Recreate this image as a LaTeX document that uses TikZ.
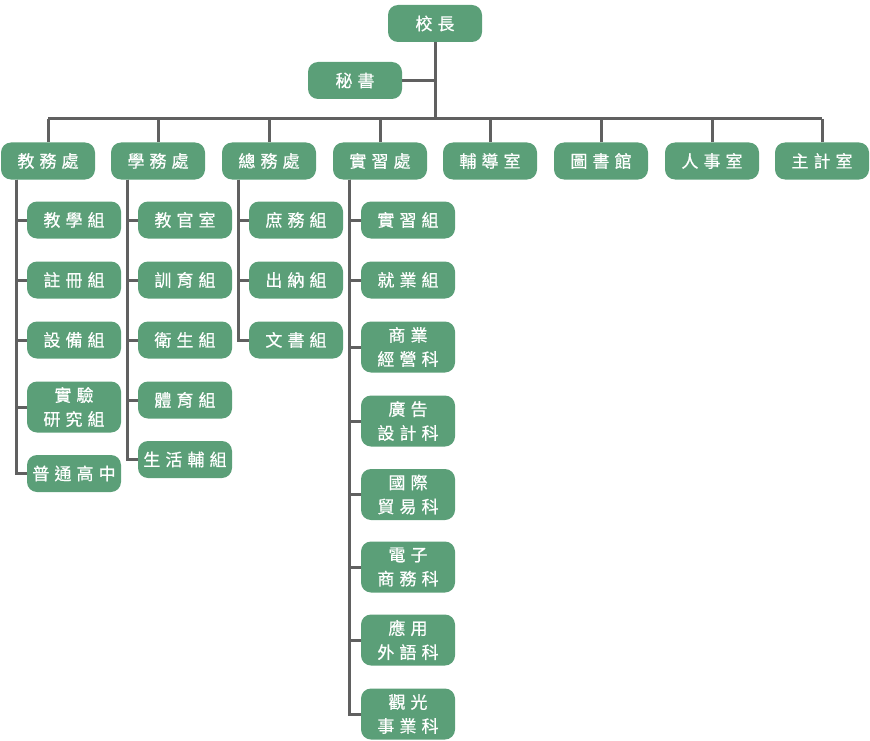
\documentclass[tikz,border=0pt]{standalone}
\usepackage{fontspec}
\newfontfamily\cjk[LetterSpace=30,FakeBold=0.6]{Noto Sans CJK TC}
\definecolor{boxgreen}{HTML}{5B9F78}
\definecolor{linegray}{HTML}{606060}
\begin{document}
\begin{tikzpicture}[x=1pt,y=-1pt,
  box/.style={rectangle, rounded corners=10pt, fill=boxgreen, text=white,
    minimum width=94pt, minimum height=37pt, inner sep=0pt, align=center,
    font=\cjk\fontsize{17}{24}\selectfont},
  tall/.style={box, minimum height=51pt},
  conn/.style={draw=linegray, line width=3pt}]
\useasboundingbox (0,0) rectangle (870,741);
% top
\node[box] (pr) at (435,23.5) {校長};
\node[box] (sec) at (355,80.5) {秘書};
\coordinate (bus) at (435,119);
% level 1
\node[box] (jw) at (48,161) {教務處};
\node[box] (xw) at (158,161) {學務處};
\node[box] (zw) at (269,161) {總務處};
\node[box] (sx) at (380,161) {實習處};
\node[box] (fd) at (490,161) {輔導室};
\node[box] (ts) at (601,161) {圖書館};
\node[box] (rs) at (712,161) {人事室};
\node[box] (zj) at (822,161) {主計室};
% 教務處 children
\node[box] (j1) at (74,220) {教學組};
\node[box] (j2) at (74,280) {註冊組};
\node[box] (j3) at (74,340) {設備組};
\node[tall] (j4) at (74,407) {實驗\\研究組};
\node[box] (j5) at (74,473.5) {普通高中};
% 學務處 children
\node[box] (x1) at (185,220) {教官室};
\node[box] (x2) at (185,280) {訓育組};
\node[box] (x3) at (185,340) {衛生組};
\node[box] (x4) at (185,400) {體育組};
\node[box] (x5) at (185,459.5) {生活輔組};
% 總務處 children
\node[box] (z1) at (296,220) {庶務組};
\node[box] (z2) at (296,280) {出納組};
\node[box] (z3) at (296,340) {文書組};
% 實習處 children
\node[box] (s1) at (408,220) {實習組};
\node[box] (s2) at (408,280) {就業組};
\node[tall] (s3) at (408,347) {商業\\經營科};
\node[tall] (s4) at (408,421) {廣告\\設計科};
\node[tall] (s5) at (408,494.5) {國際\\貿易科};
\node[tall] (s6) at (408,567) {電子\\商務科};
\node[tall] (s7) at (408,640) {應用\\外語科};
\node[tall] (s8) at (408,714) {觀光\\事業科};
% connectors
\begin{scope}[conn]
\draw (pr.south) -- (bus);
\draw (sec.east) -- (sec.east -| pr.south);
\draw (jw.north |- bus) -- (zj.north |- bus);
\foreach \n in {jw,xw,zw,sx,fd,ts,rs,zj} \draw (\n.north) -- (\n.north |- bus);
\foreach \c in {j1,j2,j3,j4,j5} \draw ([xshift=-32pt]jw.south) |- (\c.west);
\foreach \c in {x1,x2,x3,x4,x5} \draw ([xshift=-31pt]xw.south) |- (\c.west);
\foreach \c in {z1,z2,z3} \draw ([xshift=-31pt]zw.south) |- (\c.west);
\foreach \c in {s1,s2,s3,s4,s5,s6,s7,s8} \draw ([xshift=-31pt]sx.south) |- (\c.west);
\end{scope}
\end{tikzpicture}
\end{document}
